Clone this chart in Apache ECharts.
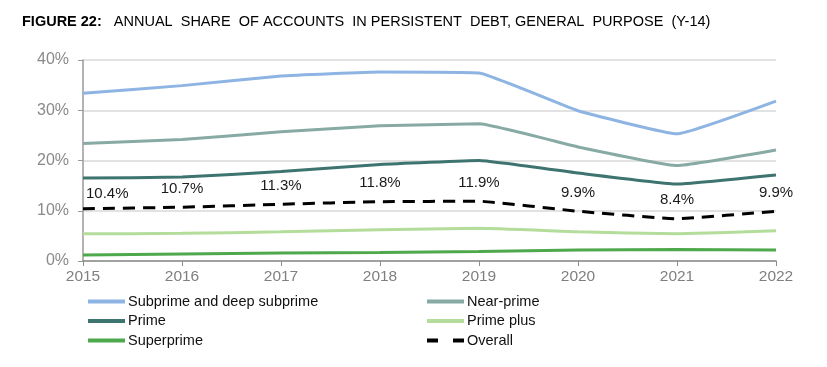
<!DOCTYPE html>
<html><head><meta charset="utf-8">
<script src="https://cdn.jsdelivr.net/npm/echarts@6/dist/echarts.min.js"></script>
<style>html,body{margin:0;padding:0;background:#fff}#c{width:827px;height:367px}</style>
</head><body><div id="c"></div>
<script>
var years = ['2015','2016','2017','2018','2019','2020','2021','2022'];
var subprime = [33.4, 34.9, 36.8, 37.6, 37.4, 29.9, 25.3, 31.8];
var nearPrime = [23.4, 24.2, 25.7, 26.9, 27.3, 22.7, 19.0, 22.1];
var prime = [16.5, 16.7, 17.8, 19.2, 20.0, 17.5, 15.3, 17.1];
var primePlus = [5.4, 5.5, 5.8, 6.2, 6.5, 5.8, 5.4, 6.0];
var superprime = [1.2, 1.4, 1.6, 1.7, 1.9, 2.2, 2.3, 2.2];
var overall = [10.4, 10.7, 11.3, 11.8, 11.9, 9.9, 8.4, 9.9];
var yTicks = [0, 10, 20, 30, 40];

var font = 'Liberation Sans, Arial, sans-serif';
var chart = echarts.init(document.getElementById('c'));
function line(name, data, color, extra) {
  var s = {name: name, type: 'line', data: data, symbol: 'none', smooth: 0.1,
    lineStyle: {color: color, width: 3}, itemStyle: {color: color}, z: 3};
  return Object.assign(s, extra || {});
}
var overallData = overall.map(function (v, i) {
  var d = {value: v};
  if (i === 0) d.label = {align: 'left', offset: [3, 4]};
  return d;
});
var legendCommon = {orient: 'vertical', top: 289, itemWidth: 37, itemHeight: 3, itemGap: 4.5,
  itemStyle: {opacity: 0, borderWidth: 0},
  lineStyle: {width: 4},
  textStyle: {fontFamily: font, fontSize: 14.5, color: '#111', padding: [0, 0, 0, -2]}};
chart.setOption({
  animation: false,
  title: {
    text: '{b|FIGURE 22:}   ANNUAL  SHARE  OF ACCOUNTS  IN PERSISTENT  DEBT, GENERAL  PURPOSE  (Y-14)',
    left: 17, top: 9,
    textStyle: {fontFamily: font, fontSize: 14.5, fontWeight: 'normal', color: '#000',
      rich: {b: {fontFamily: font, fontSize: 14.5, fontWeight: 'bold', color: '#000'}}}
  },
  grid: {left: 83, right: 51, top: 60, bottom: 106},
  xAxis: {
    type: 'category', data: years, boundaryGap: false,
    axisLine: {lineStyle: {color: '#8c8c8c', width: 1.5}},
    axisTick: {show: true, length: 5, lineStyle: {color: '#8c8c8c'}},
    axisLabel: {color: '#7f7f7f', fontFamily: font, fontSize: 15.5, margin: 8}
  },
  yAxis: {
    type: 'value', min: yTicks[0], max: yTicks[yTicks.length - 1], interval: 10,
    axisLine: {show: true, lineStyle: {color: '#9a9a9a', width: 1.5}},
    axisTick: {show: true, length: 5, lineStyle: {color: '#9a9a9a'}},
    splitLine: {lineStyle: {color: '#d9d9d9', width: 1.5}},
    axisLabel: {color: '#8a8a8a', fontFamily: font, fontSize: 16, margin: 14,
      formatter: function (v) { return v + '%'; }}
  },
  legend: [
    Object.assign({left: 81, data: ['Subprime and deep subprime', 'Prime', 'Superprime']}, legendCommon),
    Object.assign({left: 420, data: ['Near-prime', 'Prime plus',
      {name: 'Overall', lineStyle: {width: 4, type: [11, 15]}}]}, legendCommon)
  ],
  series: [
    line('Subprime and deep subprime', subprime, '#8db4e2'),
    line('Near-prime', nearPrime, '#88aaa5'),
    line('Prime', prime, '#3e7470'),
    line('Prime plus', primePlus, '#b4dd9c'),
    line('Superprime', superprime, '#4ea84c'),
    line('Overall', overallData, '#000000', {
      symbol: 'circle', symbolSize: 0.01, showSymbol: true,
      lineStyle: {color: '#000', width: 3, type: [12, 8]}, z: 4,
      label: {show: true, position: 'top', distance: 11, fontFamily: font, fontSize: 15,
        color: '#1a1a1a', formatter: function (p) { return p.value.toFixed(1) + '%'; }}
    })
  ]
});
</script></body></html>
